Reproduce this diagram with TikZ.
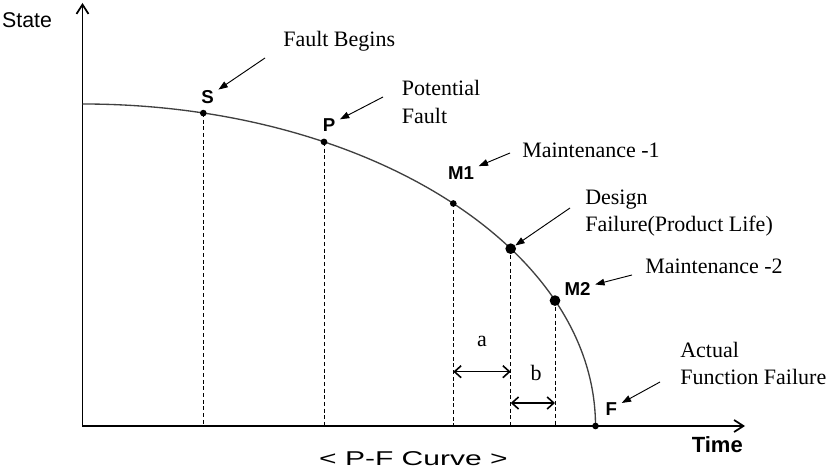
\documentclass[tikz,border=0pt]{standalone}
\usepackage{fontspec}
\setmainfont{Liberation Serif}
\setsansfont{Liberation Sans}
\usetikzlibrary{arrows.meta, positioning}

\begin{document}
\begin{tikzpicture}[
    x=0.75pt, y=0.75pt,
    axis/.style={line width=1.3pt, line join=miter, {Straight Barb[length=7pt, width=9pt]}-{Straight Barb[length=7pt, width=9pt]}},
    curve/.style={line width=1pt, draw=black!75},
    guide/.style={dash pattern=on 3pt off 2pt, line width=0.7pt},
    dot/.style={circle, fill=black, inner sep=0pt, minimum size=5pt},
    bigdot/.style={dot, minimum size=8pt},
    pt/.style={font=\sffamily\bfseries\fontsize{14}{16}\selectfont},
    note/.style={font=\fontsize{16.5}{20.5}\selectfont, align=left, anchor=base west, inner sep=0pt},
    lead/.style={-{Triangle[length=7pt, width=5pt]}, line width=0.7pt},
    span/.style={{Straight Barb[length=5pt, width=9pt]}-{Straight Barb[length=5pt, width=9pt]}, line width=1.2pt}
  ]
  \useasboundingbox (-82.5,-44) rectangle (744.5,426);

  % axes
  \coordinate (O) at (0,0);
  \coordinate (ytop) at (0,423);
  \coordinate (xend) at (662.5,0);
  \draw[axis] (ytop) -- (O) -- (xend);
  \node[font=\sffamily\fontsize{16}{18}\selectfont] (state) at (-55.5,405.7) {State};
  \node[font=\sffamily\bfseries\fontsize{16.5}{19}\selectfont] (time) at (634.8,-18.2) {Time};

  % P-F curve
  \coordinate (start) at (0,322);
  \draw[curve] (start) arc[start angle=90, end angle=0, x radius=513, y radius=322];

  \coordinate (S) at (120.8,312.9);
  \coordinate (P) at (241.5,284.1);
  \coordinate (M1) at (370.8,222.5);
  \coordinate (D) at (428.2,177.3);
  \coordinate (M2) at (472.5,125.4);

  \foreach \p in {S, P, M1, D, M2}
    \draw[guide] (\p) -- (\p |- O);

  \node[dot] (Sdot) at (S) {};
  \node[dot] (Pdot) at (P) {};
  \node[dot] (M1dot) at (M1) {};
  \node[bigdot] (Ddot) at (D) {};
  \node[bigdot] (M2dot) at (M2) {};
  \node[dot] (Fdot) at (513,0) {};

  \node[pt] (Slbl) at (125,329) {S};
  \node[pt] (Plbl) at (246.5,301) {P};
  \node[pt] (M1lbl) at (378.5,252.5) {M1};
  \node[pt] (M2lbl) at (495,137) {M2};
  \node[pt] (Flbl) at (528.8,17.3) {F};

  % notes
  \node[note] (begins) at (200.5,379.3) {Fault Begins};
  \node[note] (potential) at (319.2,302.7) {Potential\\Fault};
  \node[note] (maint1) at (439.5,268.3) {Maintenance -1};
  \node[note] (design) at (502.5,194.3) {Design\\Failure(Product Life)};
  \node[note] (maint2) at (562.5,152.7) {Maintenance -2};
  \node[note] (actual) at (597.5,41) {Actual\\Function Failure};

  \coordinate (t1) at (182.5,368);
  \coordinate (t2) at (300.5,329);
  \coordinate (t3) at (427.5,273);
  \coordinate (t4) at (487.5,218);
  \coordinate (t5) at (549.5,151);
  \coordinate (t6) at (577.5,44);
  \draw[lead] (t1) -- (Slbl);
  \draw[lead] (t2) -- (Plbl);
  \draw[lead] (t3) -- (M1lbl);
  \draw[lead] (t4) -- (Ddot);
  \draw[lead] (t5) -- (M2lbl);
  \draw[lead] (t6) -- (Flbl);

  % intervals
  \draw[span] (M1 |- 0,54.3) -- (D |- 0,54.3);
  \draw[span] (D |- 0,23) -- (M2 |- 0,23);
  \node[note, anchor=base] (alen) at (399.5,79) {a};
  \node[note, anchor=base] (blen) at (453.5,45.3) {b};

  \node[font=\sffamily\fontsize{15}{18}\selectfont] (title) at (330.9,-32.9) {\scalebox{1.5}[1]{< P-F Curve >}};
\end{tikzpicture}
\end{document}
